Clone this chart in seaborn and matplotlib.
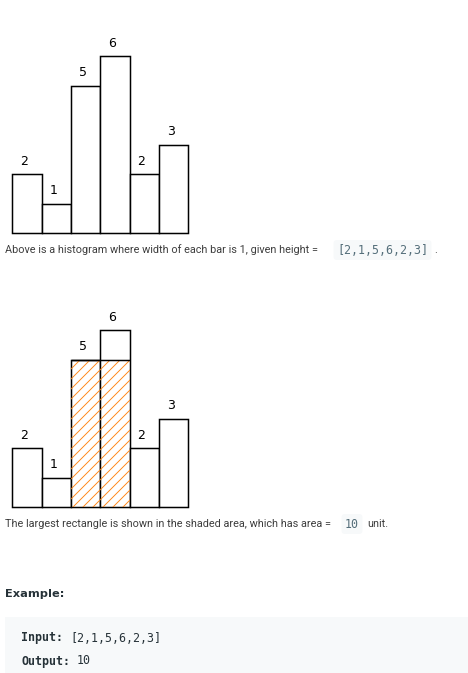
import matplotlib
matplotlib.use("Agg")
import matplotlib.pyplot as plt
import seaborn as sns

# -----------------------------
# DATA
# -----------------------------
heights = [2, 1, 5, 6, 2, 3]
positions = list(range(len(heights)))
bar_labels = [str(h) for h in heights]

# largest rectangle (brute force, small input)
best_area, best_start, best_width, best_height = 0, 0, 0, 0
for i in range(len(heights)):
    low = heights[i]
    for j in range(i, len(heights)):
        low = min(low, heights[j])
        if low * (j - i + 1) > best_area:
            best_area, best_start, best_width, best_height = low * (j - i + 1), i, j - i + 1, low

# -----------------------------
# FIGURE SETUP
# -----------------------------
W, H, DPI = 468, 673, 60          # dpi 60 + '//' hatch -> ~10px line spacing
PT = 72 / DPI                     # points per pixel

sns.set_theme(style="white")
plt.rcParams["font.family"] = ["DejaVu Sans"]
plt.rcParams["hatch.linewidth"] = 0.9 * PT

fig = plt.figure(figsize=(W / DPI, H / DPI), dpi=DPI)
fig.patch.set_facecolor("white")
renderer = fig.canvas.get_renderer()


def fx(x):
    return x / W


def fy(y):
    return 1 - y / H


def fit_width(t, target_px):
    # shrink/grow a text so it spans target_px pixels
    w = t.get_window_extent(renderer).width
    t.set_fontsize(t.get_fontsize() * target_px / w)


BODY_FONT = ["Roboto", "DejaVu Sans"]
MONO_FONT = ["DejaVu Sans Mono"]
TEXT_COLOR = "#3d3d3d"
CODE_COLOR = "#546e7a"
CODE_BG = "#f7f9fa"
HATCH_COLOR = "#ff8410"
LW = 1.5 * PT

# bar geometry in pixels
X_LEFT, X_UNIT, Y_UNIT = 12.3, 176 / 6, 29.5
PAD_X, Y_TOP = 0.06, 7.0


def make_axes(baseline_px):
    x0 = -0.5 - PAD_X
    x1 = len(heights) - 0.5 + PAD_X
    y0 = -0.06
    left_px = X_LEFT - PAD_X * X_UNIT
    ax = fig.add_axes([fx(left_px), fy(baseline_px - y0 * Y_UNIT),
                       (x1 - x0) * X_UNIT / W, (Y_TOP - y0) * Y_UNIT / H])
    return ax, (x0, x1), (y0, Y_TOP)


def draw_bars(baseline_px, shaded=False):
    ax, xl, yl = make_axes(baseline_px)
    sns.barplot(x=positions, y=heights, color="white", saturation=1,
                edgecolor="black", linewidth=LW, width=1, ax=ax, zorder=1)
    if shaded:
        cx = best_start + (best_width - 1) / 2
        ax.bar(cx, best_height, width=best_width, facecolor="none",
               edgecolor=HATCH_COLOR, linewidth=0, hatch="//", zorder=2)
        ax.hlines(best_height, best_start - 0.5, best_start + best_width - 0.5,
                  color="black", linewidth=LW, zorder=3)
    for p, h, lab in zip(positions, heights, bar_labels):
        ax.annotate(lab, (p, h), xytext=(-3 * PT, 13 * PT), textcoords="offset points",
                    ha="center", va="center", fontsize=12.5 * PT, color="black",
                    annotation_clip=False)
    ax.set_xlim(*xl)
    ax.set_ylim(*yl)
    ax.axis("off")
    return ax


def code_span(x, y, s):
    return fig.text(fx(x), fy(y), s, family=MONO_FONT, fontsize=11.6 * PT,
                    color=CODE_COLOR, va="center", ha="left",
                    bbox=dict(boxstyle="round,pad=0.3", fc=CODE_BG, ec="none"))


def body(x, y, s, target=None):
    t = fig.text(fx(x), fy(y), s, family=BODY_FONT, fontsize=12.5 * PT,
                 color=TEXT_COLOR, va="center", ha="left")
    if target:
        fit_width(t, target)
    return t


# -----------------------------
# CHART 1
# -----------------------------
draw_bars(233.3)

t1 = body(5, 250, "Above is a histogram where width of each bar is 1, given height =", 315)
code_span(337, 250, "[" + ",".join(bar_labels) + "]")
body(434, 250, ".").set_fontsize(t1.get_fontsize())

# -----------------------------
# CHART 2
# -----------------------------
draw_bars(507.3, shaded=True)

t2 = body(5, 524, "The largest rectangle is shown in the shaded area, which has area =", 330)
code_span(345, 524, str(best_area))
body(367, 524, "unit.").set_fontsize(t2.get_fontsize())

# -----------------------------
# EXAMPLE BLOCK
# -----------------------------
ex = fig.text(fx(5), fy(594), "Example:", family=["DejaVu Sans"], fontsize=12 * PT,
              fontweight="bold", color="#263238", va="center", ha="left")
fit_width(ex, 59)

fig.patches.append(plt.Rectangle((fx(5), 0), 1 - fx(5), fy(617),
                                 transform=fig.transFigure, facecolor=CODE_BG,
                                 edgecolor="none", zorder=0))

fig.text(fx(21), fy(638), "Input:", family=MONO_FONT, fontsize=11.6 * PT,
         fontweight="bold", color="#263238", va="center", ha="left")
fig.text(fx(21 + 7 * 7), fy(638), "[" + ",".join(bar_labels) + "]", family=MONO_FONT,
         fontsize=11.6 * PT, color="#263238", va="center", ha="left")
fig.text(fx(21), fy(661), "Output:", family=MONO_FONT, fontsize=11.6 * PT,
         fontweight="bold", color="#263238", va="center", ha="left")
fig.text(fx(21 + 8 * 7), fy(661), str(best_area), family=MONO_FONT,
         fontsize=11.6 * PT, color="#263238", va="center", ha="left")

fig.savefig("out.png", dpi=DPI)
